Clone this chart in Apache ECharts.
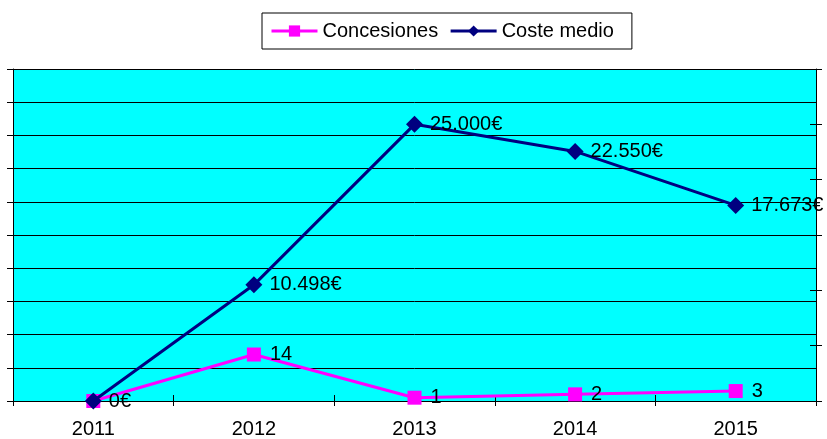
<!DOCTYPE html>
<html>
<head>
<meta charset="utf-8">
<script src="https://cdn.jsdelivr.net/npm/echarts@6/dist/echarts.min.js"></script>
<style>
html,body{margin:0;padding:0;background:#fff;}
#c{width:827px;height:439px;}
</style>
</head>
<body>
<div id="c"></div>
<script>
const years = ['2011', '2012', '2013', '2014', '2015'];
const concesiones = [0, 14, 1, 2, 3];
const costeMedio = [0, 10498, 25000, 22550, 17673];
const leftAxis = { min: 0, max: 100, interval: 10 };
const rightAxis = { min: 0, max: 30000, interval: 5000 };

const FONT = 'Liberation Sans';
function euro(v) {
  return String(v).replace(/\B(?=(\d{3})+(?!\d))/g, '.') + '€';
}

const chart = echarts.init(document.getElementById('c'), null, { renderer: 'canvas' });
const hiddenY = (side, base) => ({
  type: 'value', position: side, min: base.min, max: base.max, interval: base.interval,
  axisLine: { show: false }, axisLabel: { show: false }, splitLine: { show: false },
  axisTick: { show: true, inside: true, length: 6, lineStyle: { color: '#000', width: 1 } }
});
chart.setOption({
  animation: false,
  backgroundColor: '#ffffff',
  textStyle: { fontFamily: FONT },
  legend: {
    left: 262, top: 13,
    padding: [8, 18, 8, 8],
    itemGap: 11,
    itemWidth: 46, itemHeight: 14,
    borderColor: '#000', borderWidth: 1,
    lineStyle: { width: 3 },
    textStyle: { fontFamily: FONT, fontSize: 20, color: '#000' },
    data: ['Concesiones', 'Coste medio']
  },
  grid: {
    left: 13, right: 11, top: 69, bottom: 37,
    show: true, backgroundColor: '#00FFFF', borderWidth: 0
  },
  xAxis: [{
    type: 'category', data: years, boundaryGap: true, position: 'bottom',
    axisLine: { show: true, lineStyle: { color: '#000', width: 1 } },
    axisTick: { show: true, length: 5, alignWithLabel: false, lineStyle: { color: '#000' } },
    axisLabel: { fontFamily: FONT, fontSize: 20, color: '#000', margin: 18 },
    splitLine: { show: false }
  }, {
    type: 'category', data: years, boundaryGap: true, position: 'bottom',
    axisLine: { show: false },
    axisTick: { show: true, inside: true, length: 6, lineStyle: { color: '#000' } },
    axisLabel: { show: false },
    splitLine: { show: false }
  }],
  yAxis: [{
    type: 'value', position: 'left', min: leftAxis.min, max: leftAxis.max, interval: leftAxis.interval,
    axisLine: { show: true, lineStyle: { color: '#000', width: 1 } },
    axisTick: { show: true, length: 6, lineStyle: { color: '#000' } },
    axisLabel: { show: false },
    splitLine: { show: true, lineStyle: { color: '#000', width: 1 } }
  }, {
    type: 'value', position: 'right', min: rightAxis.min, max: rightAxis.max, interval: rightAxis.interval,
    axisLine: { show: true, lineStyle: { color: '#000', width: 1 } },
    axisTick: { show: true, length: 6, lineStyle: { color: '#000' } },
    axisLabel: { show: false },
    splitLine: { show: false }
  },
  hiddenY('left', leftAxis),
  hiddenY('right', rightAxis)
  ],
  series: [{
    name: 'Concesiones', type: 'line', xAxisIndex: 0, yAxisIndex: 0,
    data: concesiones,
    symbol: 'rect', symbolSize: 14,
    itemStyle: { color: '#FF00FF' },
    lineStyle: { color: '#FF00FF', width: 3 },
    label: {
      show: true, position: 'right', distance: 9,
      fontFamily: FONT, fontSize: 20, color: '#000',
      formatter: p => (p.value === 0 ? '' : String(p.value))
    },
    z: 2
  }, {
    name: 'Coste medio', type: 'line', xAxisIndex: 0, yAxisIndex: 1,
    data: costeMedio,
    symbol: 'diamond', symbolSize: [17, 17],
    itemStyle: { color: '#000080' },
    lineStyle: { color: '#000080', width: 3 },
    label: {
      show: true, position: 'right', distance: 7,
      fontFamily: FONT, fontSize: 20, color: '#000',
      formatter: p => euro(p.value)
    },
    z: 3
  }]
});
</script>
</body>
</html>
